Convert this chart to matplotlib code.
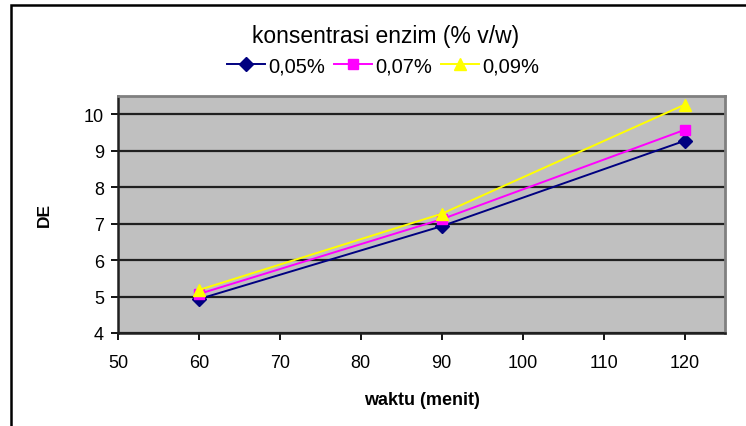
import matplotlib.pyplot as plt
from matplotlib.patches import Rectangle

plt.rcParams['font.family'] = ['Liberation Sans', 'DejaVu Sans']

# data
waktu = [60, 90, 120]
de_005 = [4.93, 6.93, 9.27]
de_007 = [5.07, 7.12, 9.57]
de_009 = [5.18, 7.27, 10.26]
labels = ['0,05%', '0,07%', '0,09%']

fig = plt.figure(figsize=(7.46, 4.27), dpi=100)
ax = fig.add_axes([118 / 746, 1 - 334 / 427, 607 / 746, 237 / 427])
ax.set_facecolor('#c0c0c0')

ax.plot(waktu, de_005, color='#000080', marker='D', markersize=7, lw=1.4, label=labels[0])
ax.plot(waktu, de_007, color='#ff00ff', marker='s', markersize=6.5, lw=1.4, label=labels[1])
ax.plot(waktu, de_009, color='#ffff00', marker='^', markersize=8.5, lw=1.4, label=labels[2])

ax.set_xlim(50, 125)
ax.set_ylim(4, 10.5)
ax.set_xticks(range(50, 121, 10))
ax.set_yticks(range(4, 11))
ax.yaxis.grid(True, color='#202020', lw=1.6)
ax.set_axisbelow(True)

for side in ['top', 'right']:
    ax.spines[side].set_color('#808080')
    ax.spines[side].set_linewidth(2)
for side in ['left', 'bottom']:
    ax.spines[side].set_color('#202020')
    ax.spines[side].set_linewidth(1.8)

ax.tick_params(direction='out', length=5, width=1.3, labelsize=13)
ax.tick_params(axis='x', pad=10)
ax.tick_params(axis='y', pad=5)

ax.set_xlabel('waktu (menit)', fontsize=13, fontweight='bold')
ax.xaxis.set_label_coords(0.5, -(392 - 334) / 237, transform=ax.transAxes)
ax.set_ylabel('DE', fontsize=12.5, fontweight='bold')
ax.yaxis.set_label_coords(-(118 - 52) / 607, 0.5, transform=ax.transAxes)

fig.text(386 / 746, 1 - 37 / 427, 'konsentrasi enzim (% v/w)', fontsize=16.5,
         ha='center', va='center')
fig.legend(loc='center', bbox_to_anchor=(383 / 746, 1 - 67 / 427), ncol=3,
           frameon=False, fontsize=14.5, handlelength=1.9, handletextpad=0.15,
           columnspacing=0.45, borderaxespad=0, borderpad=0)

# outer chart border (only left and top visible)
fig.patches.append(Rectangle((10.5 / 746, -0.1), 1.2, 1 - 5.5 / 427 + 0.1,
                             transform=fig.transFigure, fill=False,
                             edgecolor='black', lw=1.8))

fig.savefig('out.png', dpi=100)
